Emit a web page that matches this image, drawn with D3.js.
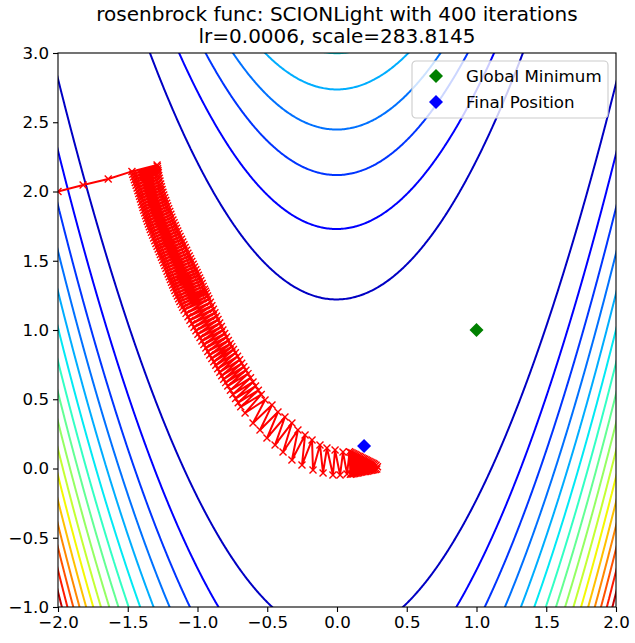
<!DOCTYPE html>
<html>
<head>
<meta charset="utf-8">
<script src="https://cdn.jsdelivr.net/npm/d3@7"></script>
<style>
  body { margin: 0; background: #fff; }
  text { font-family: "DejaVu Sans", sans-serif; fill: #000; }
</style>
</head>
<body>
<div class="chart"></div>
<script>
// chart values
const xTicks = [-2.0, -1.5, -1.0, -0.5, 0.0, 0.5, 1.0, 1.5, 2.0];
const yTicks = [-1.0, -0.5, 0.0, 0.5, 1.0, 1.5, 2.0, 2.5, 3.0];
const contourLevels = [150, 300, 450, 600, 750, 900, 1050, 1200, 1350, 1500, 1650, 1800, 1950, 2100, 2250, 2400];
const colorDomain = [0, 2550];
const globalMin = [1.0, 1.0];
const finalPos = [0.194, 0.162];
const titleLines = ["rosenbrock func: SCIONLight with 400 iterations", "lr=0.0006, scale=283.8145"];
const legendLabels = ["Global Minimum", "Final Position"];

// optimiser path (x, y)
const pathPoints = [
  [-2.0, 2.0], [-1.82, 2.047], [-1.64, 2.09],
  [-1.470, 2.145], [-1.290, 2.191], [-1.464, 2.125], [-1.288, 2.180],
  [-1.458, 2.105], [-1.286, 2.165], [-1.452, 2.085], [-1.283, 2.150],
  [-1.446, 2.065], [-1.281, 2.135], [-1.440, 2.045], [-1.278, 2.115],
  [-1.433, 2.025], [-1.274, 2.095], [-1.427, 2.005], [-1.269, 2.075],
  [-1.421, 1.985], [-1.264, 2.055], [-1.415, 1.965], [-1.259, 2.035],
  [-1.409, 1.945], [-1.254, 2.015], [-1.403, 1.925], [-1.248, 1.995],
  [-1.397, 1.905], [-1.242, 1.975], [-1.391, 1.885], [-1.235, 1.955],
  [-1.385, 1.865], [-1.228, 1.935], [-1.378, 1.845], [-1.221, 1.915],
  [-1.372, 1.825], [-1.214, 1.895], [-1.366, 1.805], [-1.207, 1.875],
  [-1.359, 1.785], [-1.199, 1.855], [-1.352, 1.765], [-1.191, 1.835],
  [-1.345, 1.745], [-1.184, 1.815], [-1.338, 1.725], [-1.176, 1.795],
  [-1.330, 1.705], [-1.168, 1.775], [-1.322, 1.685], [-1.159, 1.755],
  [-1.314, 1.665], [-1.151, 1.735], [-1.306, 1.645], [-1.142, 1.715],
  [-1.298, 1.625], [-1.134, 1.695], [-1.290, 1.605], [-1.125, 1.675],
  [-1.282, 1.585], [-1.115, 1.655], [-1.274, 1.565], [-1.106, 1.635],
  [-1.266, 1.545], [-1.097, 1.615], [-1.258, 1.525], [-1.088, 1.595],
  [-1.250, 1.505], [-1.078, 1.575], [-1.242, 1.485], [-1.069, 1.555],
  [-1.234, 1.465], [-1.059, 1.535], [-1.226, 1.445], [-1.050, 1.515],
  [-1.218, 1.425], [-1.041, 1.495], [-1.210, 1.405], [-1.031, 1.475],
  [-1.202, 1.385], [-1.022, 1.455], [-1.194, 1.365], [-1.012, 1.435],
  [-1.186, 1.345], [-1.003, 1.415], [-1.178, 1.325], [-0.994, 1.395],
  [-1.170, 1.305], [-0.985, 1.375], [-1.162, 1.285], [-0.976, 1.355],
  [-1.153, 1.265], [-0.967, 1.335], [-1.144, 1.245], [-0.959, 1.315],
  [-1.135, 1.225], [-0.950, 1.295], [-1.126, 1.205], [-0.943, 1.280],
  [-1.116, 1.185], [-0.937, 1.265], [-1.106, 1.165], [-0.928, 1.245],
  [-1.096, 1.145], [-0.919, 1.225], [-1.082, 1.120], [-0.908, 1.200],
  [-1.068, 1.095], [-0.897, 1.175], [-1.054, 1.070], [-0.886, 1.150],
  [-1.040, 1.045], [-0.875, 1.125], [-1.025, 1.020], [-0.864, 1.100],
  [-1.011, 0.995], [-0.853, 1.075], [-0.997, 0.970], [-0.841, 1.050],
  [-0.982, 0.945], [-0.829, 1.025], [-0.968, 0.920], [-0.818, 1.000],
  [-0.954, 0.895], [-0.805, 0.975], [-0.940, 0.870], [-0.792, 0.950],
  [-0.926, 0.845], [-0.779, 0.925], [-0.912, 0.820], [-0.766, 0.900],
  [-0.897, 0.795], [-0.754, 0.880], [-0.883, 0.770], [-0.742, 0.860],
  [-0.869, 0.745], [-0.728, 0.835], [-0.855, 0.720], [-0.713, 0.810],
  [-0.840, 0.695], [-0.698, 0.785], [-0.826, 0.670], [-0.683, 0.760],
  [-0.812, 0.645], [-0.668, 0.735], [-0.798, 0.620], [-0.653, 0.710],
  [-0.783, 0.595], [-0.638, 0.685], [-0.764, 0.565], [-0.620, 0.655],
  [-0.746, 0.535], [-0.602, 0.625], [-0.727, 0.505], [-0.584, 0.595],
  [-0.708, 0.475], [-0.564, 0.565], [-0.690, 0.445], [-0.543, 0.535],
  [-0.659, 0.401], [-0.516, 0.495], [-0.602, 0.329], [-0.466, 0.458],
  [-0.552, 0.278], [-0.423, 0.408], [-0.502, 0.220], [-0.373, 0.372],
  [-0.444, 0.170], [-0.323, 0.329], [-0.387, 0.119], [-0.280, 0.278],
  [-0.323, 0.061], [-0.229, 0.242], [-0.251, 0.025], [-0.179, 0.206],
  [-0.172, -0.011], [-0.122, 0.170], [-0.100, -0.032], [-0.072, 0.148],
  [-0.029, -0.047], [-0.014, 0.134], [0.022, -0.047], [0.043, 0.119],
  [0.072, -0.040],
  [0.090, 0.121], [0.096, -0.041], [0.100, 0.116], [0.106, -0.040],
  [0.110, 0.111], [0.116, -0.038], [0.120, 0.106], [0.126, -0.036],
  [0.130, 0.101], [0.136, -0.034], [0.140, 0.096], [0.146, -0.032],
  [0.150, 0.091], [0.156, -0.030], [0.160, 0.086], [0.166, -0.028],
  [0.170, 0.081], [0.176, -0.026], [0.180, 0.076], [0.186, -0.024],
  [0.190, 0.071], [0.196, -0.022], [0.200, 0.066], [0.206, -0.021],
  [0.210, 0.061], [0.216, -0.019], [0.220, 0.056], [0.226, -0.017],
  [0.230, 0.051], [0.236, -0.015], [0.240, 0.046], [0.246, -0.013],
  [0.250, 0.041], [0.256, -0.011], [0.260, 0.036], [0.265, -0.009],
  [0.270, 0.030], [0.275, -0.007], [0.280, 0.024], [0.285, -0.004],
  [0.290, 0.012]
];

// Step 1: set up the chart
const svgWidth = 635;
const svgHeight = 643;
const margin = { top: 53, right: 19, bottom: 36, left: 58 };
const width = svgWidth - margin.left - margin.right;
const height = svgHeight - margin.top - margin.bottom;

const svg = d3.select(".chart")
  .append("svg")
  .attr("width", svgWidth)
  .attr("height", svgHeight);

const chartGroup = svg.append("g")
  .attr("transform", `translate(${margin.left}, ${margin.top})`);

const xScale = d3.scaleLinear().domain([-2, 2]).range([0, width]);
const yScale = d3.scaleLinear().domain([-1, 3]).range([height, 0]);

// jet colormap, same breakpoints as matplotlib
const jetR = [[0, 0], [0.35, 0], [0.66, 1], [0.89, 1], [1, 0.5]];
const jetG = [[0, 0], [0.125, 0], [0.375, 1], [0.64, 1], [0.91, 0], [1, 0]];
const jetB = [[0, 0.5], [0.11, 1], [0.34, 1], [0.65, 0], [1, 0]];
function segInterp(seg, t) {
  for (let i = 1; i < seg.length; i++) {
    if (t <= seg[i][0]) {
      const a = seg[i - 1], b = seg[i];
      return a[1] + (b[1] - a[1]) * (t - a[0]) / (b[0] - a[0]);
    }
  }
  return seg[seg.length - 1][1];
}
function jet(v) {
  const t = (v - colorDomain[0]) / (colorDomain[1] - colorDomain[0]);
  return d3.rgb(segInterp(jetR, t) * 255, segInterp(jetG, t) * 255, segInterp(jetB, t) * 255).formatHex();
}

// Step 2: rosenbrock surface on a grid a bit wider than the axes
const gx0 = -2.1, gy0 = -1.1, step = 0.01;
const nx = 421, ny = 421;
const grid = new Float64Array(nx * ny);
for (let j = 0; j < ny; j++) {
  const yy = gy0 + j * step;
  for (let i = 0; i < nx; i++) {
    const xx = gx0 + i * step;
    grid[j * nx + i] = (1 - xx) * (1 - xx) + 100 * (yy - xx * xx) * (yy - xx * xx);
  }
}

const contours = d3.contours().size([nx, ny]).smooth(true).thresholds(contourLevels)(grid);

const proj = d3.geoTransform({
  point: function(px, py) {
    this.stream.point(xScale(gx0 + (px - 0.5) * step), yScale(gy0 + (py - 0.5) * step));
  }
});
const geoPath = d3.geoPath(proj);

svg.append("defs").append("clipPath").attr("id", "plotClip")
  .append("rect").attr("width", width).attr("height", height);

const plotArea = chartGroup.append("g").attr("clip-path", "url(#plotClip)");

plotArea.append("g").selectAll("path")
  .data(contours)
  .enter()
  .append("path")
  .attr("d", geoPath)
  .attr("fill", "none")
  .attr("stroke", d => jet(d.value))
  .attr("stroke-width", 2);

// Step 3: the optimiser path
const line = d3.line().x(d => xScale(d[0])).y(d => yScale(d[1]));
plotArea.append("path")
  .datum(pathPoints)
  .attr("d", line)
  .attr("fill", "none")
  .attr("stroke", "#ff0000")
  .attr("stroke-width", 2)
  .attr("stroke-linejoin", "round");

const ms = 3.5;
plotArea.append("g").selectAll("path")
  .data(pathPoints)
  .enter()
  .append("path")
  .attr("d", d => {
    const cx = xScale(d[0]), cy = yScale(d[1]);
    return `M${cx - ms},${cy - ms}L${cx + ms},${cy + ms}M${cx - ms},${cy + ms}L${cx + ms},${cy - ms}`;
  })
  .attr("stroke", "#ff0000")
  .attr("stroke-width", 1.4);

// diamonds
const dm = 7;
function diamond(cx, cy) {
  return `M${cx},${cy - dm}L${cx + dm},${cy}L${cx},${cy + dm}L${cx - dm},${cy}Z`;
}
plotArea.append("path")
  .attr("d", diamond(xScale(globalMin[0]), yScale(globalMin[1])))
  .attr("fill", "#008000");
plotArea.append("path")
  .attr("d", diamond(xScale(finalPos[0]), yScale(finalPos[1])))
  .attr("fill", "#0000ff");

// Step 4: axes
const fmt = d3.format(".1f");
const xAxis = chartGroup.append("g")
  .attr("transform", `translate(0, ${height})`)
  .call(d3.axisBottom(xScale).tickValues(xTicks).tickFormat(fmt).tickSize(5).tickPadding(4).tickSizeOuter(0));
const yAxis = chartGroup.append("g")
  .call(d3.axisLeft(yScale).tickValues(yTicks).tickFormat(fmt).tickSize(5).tickPadding(4).tickSizeOuter(0));

[xAxis, yAxis].forEach(ax => {
  ax.select(".domain").remove();
  ax.selectAll("line").attr("stroke", "#000").attr("stroke-width", 1.1);
  ax.selectAll("text").style("font-size", "16.67px").style("font-family", "DejaVu Sans");
});

chartGroup.append("rect")
  .attr("width", width)
  .attr("height", height)
  .attr("fill", "none")
  .attr("stroke", "#000")
  .attr("stroke-width", 1.1);

// title
svg.append("g").selectAll("text")
  .data(titleLines)
  .enter()
  .append("text")
  .attr("x", margin.left + width / 2)
  .attr("y", (d, i) => 21 + i * 22)
  .attr("text-anchor", "middle")
  .style("font-size", "20px")
  .text(d => d);

// legend
const legend = svg.append("g").attr("transform", "translate(412, 61)");
legend.append("rect")
  .attr("width", 196)
  .attr("height", 57)
  .attr("rx", 4)
  .attr("fill", "#fff")
  .attr("fill-opacity", 0.8)
  .attr("stroke", "#cccccc")
  .attr("stroke-width", 1.1);
const legendColors = ["#008000", "#0000ff"];
legendLabels.forEach((lbl, i) => {
  legend.append("path")
    .attr("d", diamond(24, 15 + i * 26))
    .attr("fill", legendColors[i]);
  legend.append("text")
    .attr("x", 54)
    .attr("y", 15 + i * 26)
    .attr("dy", "0.35em")
    .style("font-size", "16.67px")
    .text(lbl);
});
</script>
</body>
</html>
